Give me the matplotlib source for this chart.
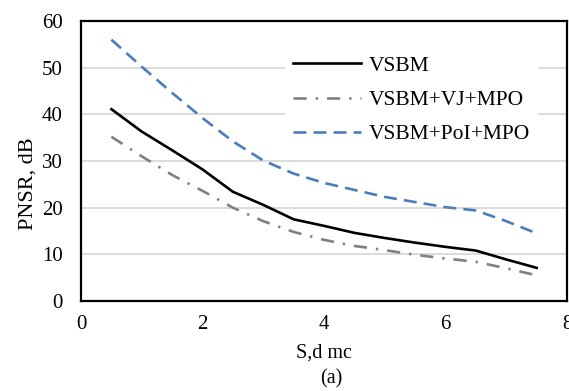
import matplotlib.pyplot as plt

s = [0.5, 1.0, 1.5, 2.0, 2.5, 3.0, 3.5, 4.0, 4.5, 5.0, 5.5, 6.0, 6.5, 7.0, 7.5]
vsbm = [41.1, 36.3, 32.3, 28.2, 23.4, 20.6, 17.5, 16.1, 14.6, 13.5, 12.5, 11.6, 10.8, 8.9, 7.1]
vsbm_vj = [35.2, 31.0, 27.0, 23.6, 20.0, 17.1, 14.8, 13.1, 11.8, 10.9, 9.9, 9.1, 8.4, 7.0, 5.5]
vsbm_poi = [56.0, 50.2, 44.6, 39.2, 34.2, 30.1, 27.3, 25.3, 23.8, 22.3, 21.2, 20.1, 19.4, 17.1, 14.5]

plt.rcParams['font.family'] = ['Liberation Serif', 'DejaVu Serif']

fig = plt.figure(figsize=(5.69, 3.91), dpi=100)
ax = fig.add_axes([0.1424, 0.2302, 0.8541, 0.7161])

ax.plot(s, vsbm, '-', color='black', lw=1.9, label='VSBM')
ax.plot(s, vsbm_vj, color='#808080', lw=1.9, dashes=(5, 3.4, 0.9, 3.4), label='VSBM+VJ+MPO')
ax.plot(s, vsbm_poi, color='#4a7ebb', lw=1.9, dashes=(4.9, 2.7), label='VSBM+PoI+MPO')

ax.set_xlim(0, 8)
ax.set_ylim(0, 60)
ax.set_xticks(range(0, 9, 2))
ax.set_yticks(range(0, 61, 10))
ax.grid(axis='y', color='#d9d9d9', lw=1.3)
ax.set_axisbelow(True)
ax.tick_params(length=0, labelsize=15)
ax.tick_params(axis='y', pad=13)
ax.tick_params(axis='x', pad=10)
for sp in ax.spines.values():
    sp.set_linewidth(1.6)

ax.set_ylabel('PNSR, dB', fontsize=16, va='center')
ax.yaxis.set_label_coords(-0.110, 0.418)
ax.set_xlabel('S,d mc', fontsize=14.5, va='center')
ax.xaxis.set_label_coords(0.5, -0.186)
fig.text(0.583, 0.031, '(a)', fontsize=14.5, ha='center', va='center')

leg = ax.legend(loc='upper left', bbox_to_anchor=(0.397, 0.945), fontsize=15.5,
                handlelength=3.16, handletextpad=0.33, labelspacing=0.66,
                frameon=True, borderpad=0.4)
leg.get_frame().set_edgecolor('none')
leg.get_frame().set_facecolor('white')
leg.get_frame().set_alpha(1)

fig.savefig('out.png', dpi=100)
